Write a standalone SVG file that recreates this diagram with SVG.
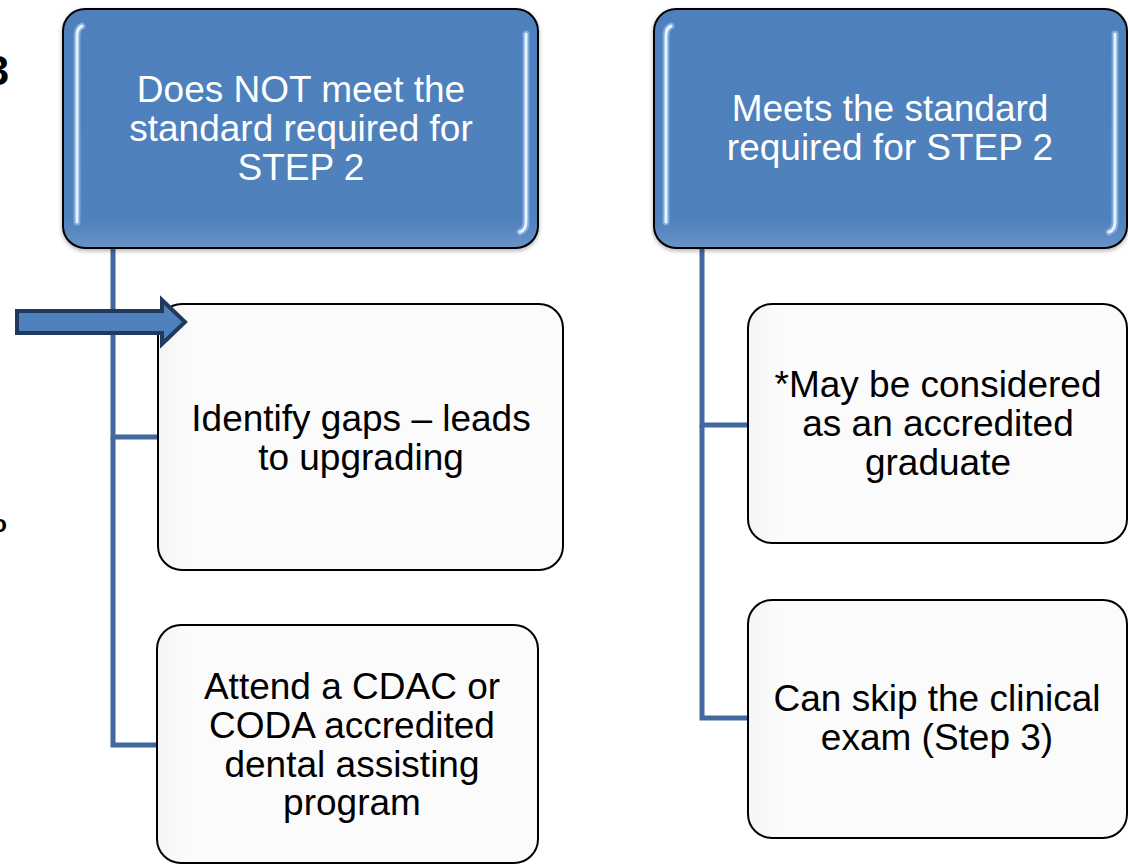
<svg xmlns="http://www.w3.org/2000/svg" width="1128" height="864" viewBox="0 0 1128 864">
<style>
.t{font-family:"Liberation Sans",Arial,sans-serif;font-size:37px;text-anchor:middle}
.tw{fill:#ffffff}
.tb{fill:#000000}
.top{fill:url(#gTop);stroke:#000;stroke-width:2}
.sub{fill:url(#gSub);stroke:#000;stroke-width:2}
.glow{fill:none;stroke:#9cc3ee;stroke-width:7;stroke-linecap:round;opacity:0.6}
.hl{fill:none;stroke:#e6f2ff;stroke-width:3;stroke-linecap:round}
.conn{fill:none;stroke:#41699D;stroke-width:5}
.edge{font-family:"Liberation Sans",Arial,sans-serif;font-weight:bold;fill:#000;text-anchor:end}
</style>
<defs>
<linearGradient id="gTop" x1="0" y1="0" x2="0" y2="1">
<stop offset="0" stop-color="#4E80BC"/>
<stop offset="0.88" stop-color="#4F81BD"/>
<stop offset="1" stop-color="#6893C7"/>
</linearGradient>
<linearGradient id="gSub" x1="0" y1="0" x2="1" y2="0">
<stop offset="0" stop-color="#F5F5F5"/>
<stop offset="0.08" stop-color="#FBFBFB"/>
<stop offset="1" stop-color="#FBFBFB"/>
</linearGradient>
<filter id="sh" x="-5%" y="-5%" width="110%" height="115%">
<feDropShadow dx="0" dy="2" stdDeviation="2" flood-color="#000" flood-opacity="0.3"/>
</filter>
</defs>
<rect width="1128" height="864" fill="#ffffff"/>

<text class="edge" x="9" y="85" font-size="42">3</text>
<text class="edge" x="7" y="532" font-size="24">o</text>

<g id="connectors">
<polyline class="conn" points="113,248 113,437 158,437"/>
<polyline class="conn" points="113,437 113,745 158,745"/>
<polyline class="conn" points="702,248 702,425 748,425"/>
<polyline class="conn" points="702,425 702,718 748,718"/>
</g>

<g id="node-not-meet">
<rect class="top" filter="url(#sh)" x="63" y="9" width="475" height="239" rx="22"/>
<path class="glow" d="M82,26 Q77,28 77,36 L77,222"/>
<path class="glow" d="M526,34 L526,222 Q526,230 520,232"/>
<path class="hl" d="M82,26 Q77,28 77,36 L77,222"/>
<path class="hl" d="M526,34 L526,222 Q526,230 520,232"/>
<text class="t tw" x="301" y="102">Does NOT meet the</text>
<text class="t tw" x="301" y="141">standard required for</text>
<text class="t tw" x="301" y="180">STEP 2</text>
</g>

<g id="node-meets">
<rect class="top" filter="url(#sh)" x="654" y="9" width="473" height="239" rx="22"/>
<path class="glow" d="M671,26 Q666,28 666,36 L666,222"/>
<path class="glow" d="M1115,34 L1115,222 Q1115,230 1109,232"/>
<path class="hl" d="M671,26 Q666,28 666,36 L666,222"/>
<path class="hl" d="M1115,34 L1115,222 Q1115,230 1109,232"/>
<text class="t tw" x="890" y="121">Meets the standard</text>
<text class="t tw" x="890" y="160">required for STEP 2</text>
</g>

<g id="node-identify-gaps">
<rect class="sub" x="158" y="304" width="405" height="266" rx="24"/>
<text class="t tb" x="361" y="431">Identify gaps – leads</text>
<text class="t tb" x="361" y="470">to upgrading</text>
</g>

<g id="node-attend">
<rect class="sub" x="157" y="625" width="381" height="238" rx="24"/>
<text class="t tb" x="352" y="699">Attend a CDAC or</text>
<text class="t tb" x="352" y="738">CODA accredited</text>
<text class="t tb" x="352" y="777">dental assisting</text>
<text class="t tb" x="352" y="815">program</text>
</g>

<g id="node-accredited">
<rect class="sub" x="748" y="304" width="379" height="239" rx="24"/>
<text class="t tb" x="938" y="397">*May be considered</text>
<text class="t tb" x="938" y="436">as an accredited</text>
<text class="t tb" x="938" y="475">graduate</text>
</g>

<g id="node-skip">
<rect class="sub" x="748" y="600" width="379" height="238" rx="24"/>
<text class="t tb" x="937" y="711">Can skip the clinical</text>
<text class="t tb" x="937" y="750">exam (Step 3)</text>
</g>

<g id="pointer-arrow">
<polygon points="17,311 162,311 162,300 185,322 162,344 162,333 17,333" fill="#4F81BD" stroke="#1F3A5C" stroke-width="4" stroke-linejoin="miter"/>
</g>
</svg>
